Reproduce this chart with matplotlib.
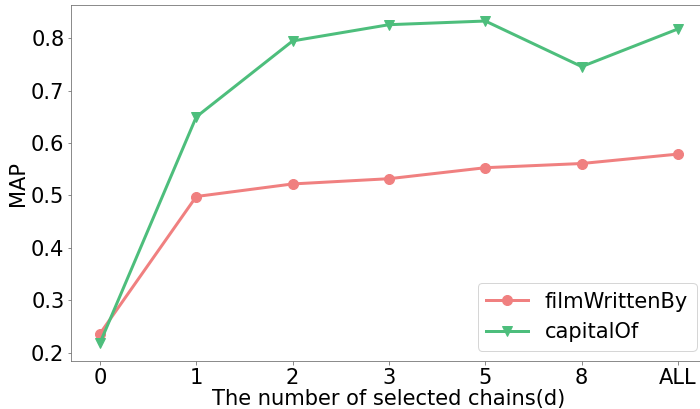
import matplotlib
matplotlib.use("Agg")
import matplotlib.pyplot as plt

categories = ["0", "1", "2", "3", "5", "8", "ALL"]
film_written_by = [0.236, 0.498, 0.522, 0.532, 0.553, 0.561, 0.579]
capital_of = [0.218, 0.650, 0.795, 0.826, 0.833, 0.746, 0.818]
y_ticks = [0.2, 0.3, 0.4, 0.5, 0.6, 0.7, 0.8]

DPI = 72
fig = plt.figure(figsize=(700 / DPI, 409 / DPI), dpi=DPI)
ax = fig.add_axes([71/700, 1 - 361/409, (707 - 71)/700, (361 - 5)/409])

x = list(range(len(categories)))
ax.plot(x, film_written_by, color="#F08080", lw=3, marker="o", ms=10, label="filmWrittenBy")
ax.plot(x, capital_of, color="#4DBE7C", lw=3, marker="v", ms=10, label="capitalOf")

ax.set_xticks(x)
ax.set_xticklabels(categories)
ax.set_yticks(y_ticks)
ax.set_xlim(-0.3, 6.3)
ax.set_ylim(0.184, 0.8636)
ax.tick_params(labelsize=21, labelcolor="black", color="#707070", pad=3)
for s in ax.spines.values():
    s.set_color("#707070")
ax.set_xlabel("The number of selected chains(d)", fontsize=21, labelpad=1)
ax.set_ylabel("MAP", fontsize=21, labelpad=3)
ax.legend(loc="lower right", fontsize=21)

fig.savefig("out.png", dpi=DPI)
